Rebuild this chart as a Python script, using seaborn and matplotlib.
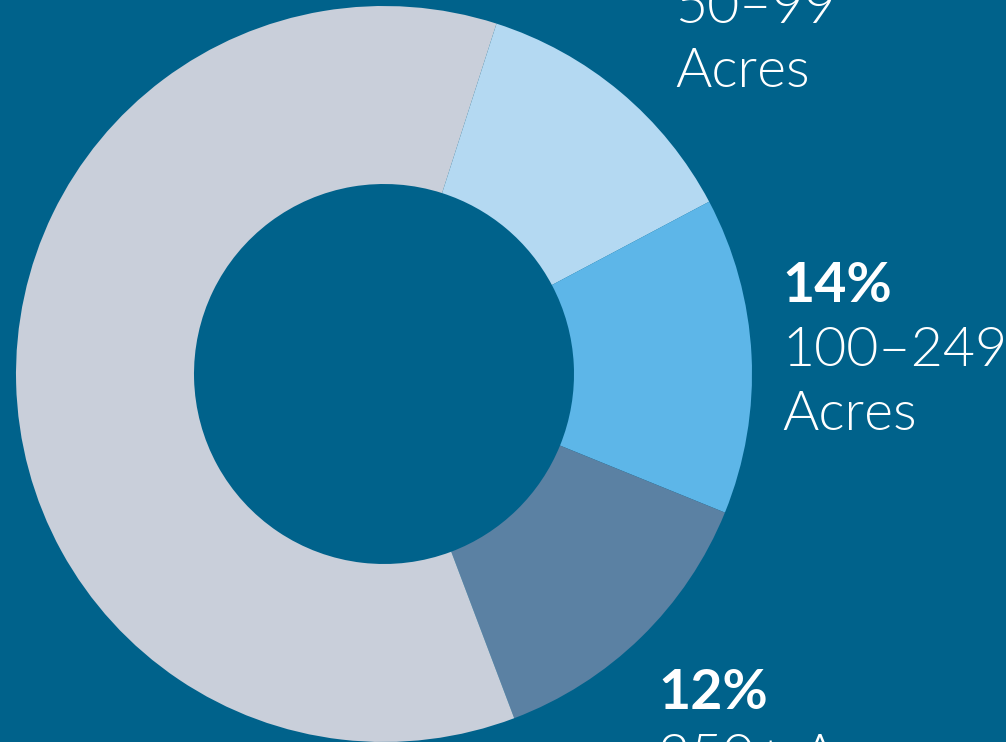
import matplotlib
matplotlib.use("Agg")
import matplotlib.pyplot as plt
import seaborn as sns

# Data (share of farms by size; slice sizes)
categories = ["50–99 Acres", "100–249 Acres", "250+ Acres", "1–49 Acres"]
values = [12.3, 13.9, 13.1, 60.7]
pct_labels = ["", "14%", "12%", ""]
range_labels = ["50–99", "100–249", "250+ Acres", ""]
colors = ["#B4D9F2", "#5DB6E8", "#5B81A3", "#C9CFDA"]
background = "#00628B"

sns.set_theme(style="white")
plt.rcParams["font.family"] = ["Lato", "DejaVu Sans"]

W, H = 1006, 742
fig = plt.figure(figsize=(W / 100, H / 100), dpi=100, facecolor=background)
ax = fig.add_axes([0, 0, 1, 1])
ax.set_facecolor(background)

palette = sns.color_palette(colors)
cx, cy = 384, H - 374
ax.pie(values, colors=palette, startangle=90 - 17.8, counterclock=False,
       center=(cx, cy), radius=368,
       wedgeprops=dict(width=178, edgecolor="none", linewidth=0, antialiased=True),
       frame=True)
ax.set_xlim(0, W)
ax.set_ylim(0, H)
ax.set_aspect("auto")
ax.axis("off")

fs = 40
lw = 300
# 50-99 label (top, partly cropped)
ax.text(675, H - 23, range_labels[0], color="white", fontsize=fs, fontweight=lw, va="baseline", ha="left")
ax.text(675, H - 87, "Acres", color="white", fontsize=fs, fontweight=lw, va="baseline", ha="left")
# 100-249 label
ax.text(782, H - 302, pct_labels[1], color="white", fontsize=fs, fontweight="bold", va="baseline", ha="left")
ax.text(782, H - 366, range_labels[1], color="white", fontsize=fs, fontweight=lw, va="baseline", ha="left")
ax.text(782, H - 430, "Acres", color="white", fontsize=fs, fontweight=lw, va="baseline", ha="left")
# 250+ label (bottom, partly cropped)
ax.text(658, H - 709, pct_labels[2], color="white", fontsize=fs, fontweight="bold", va="baseline", ha="left")
ax.text(658, H - 773, range_labels[2], color="white", fontsize=fs, fontweight=lw, va="baseline", ha="left")

fig.savefig("out.png", dpi=100, facecolor=background)
